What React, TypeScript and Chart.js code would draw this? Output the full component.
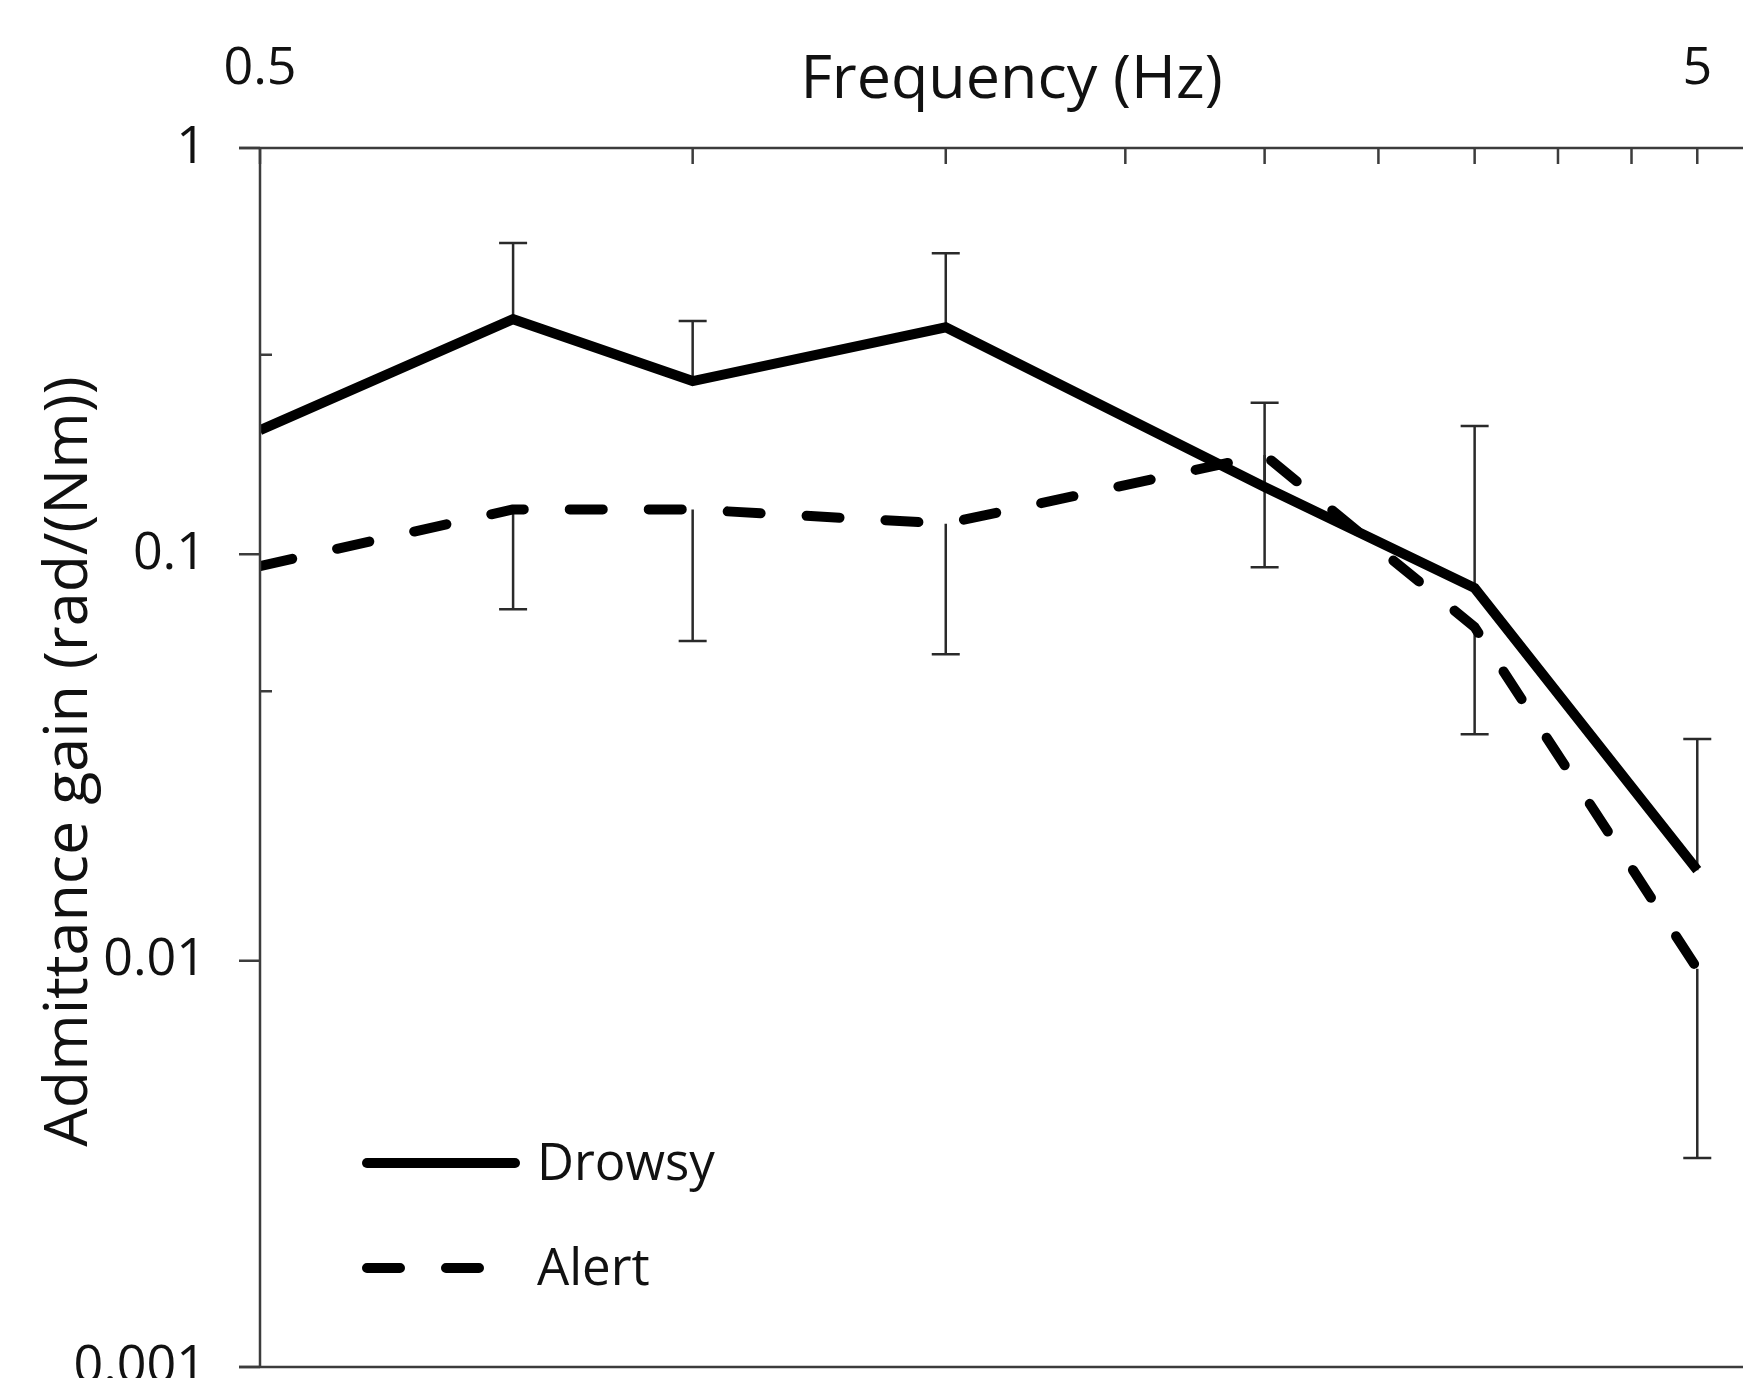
import React, { useEffect, useRef } from 'react';
import { Chart, registerables } from 'chart.js';

Chart.register(...registerables);

// ---- data ----
const frequencies = [0.5, 0.75, 1, 1.5, 2.5, 3.5, 5];
const drowsyGain = [0.202, 0.379, 0.267, 0.362, 0.1465, 0.0826, 0.0167];
const alertGain = [0.0936, 0.129, 0.129, 0.119, 0.1755, 0.0662, 0.00955];
const errorFrequencies = [0.75, 1, 1.5, 2.5, 3.5, 5];
const drowsyUpper = [0.584, 0.375, 0.551, 0.236, 0.207, 0.0351];
const alertLower = [0.0733, 0.0612, 0.0568, 0.093, 0.0361, 0.00327];
const xTickValues = [0.5, 1, 1.5, 2, 2.5, 3, 3.5, 4, 4.5, 5];
const xTickLabels = [0.5, 5];
const yTickValues = [0.001, 0.01, 0.1, 1];
const yMinorTicks = [0.31, 0.046];
const seriesLabels = ['Drowsy', 'Alert'];
const xTitle = 'Frequency (Hz)';
const yTitle = 'Admittance gain (rad/(Nm))';

const X_MIN = 0.5;
const X_MAX = 5.38;
const Y_MIN = 0.001;
const Y_MAX = 1;

const FONT = "'Open Sans', 'DejaVu Sans', sans-serif";
const AXIS_COLOR = '#3c3c3c';
const DASH = [33, 46];

const decorPlugin = {
  id: 'decor',
  beforeDatasetsDraw(chart: any) {
    const { ctx, scales } = chart;
    const x = scales.x;
    const y = scales.y;
    ctx.save();
    ctx.strokeStyle = '#2a2a2a';
    ctx.lineWidth = 2.5;
    errorFrequencies.forEach((f, i) => {
      const px = x.getPixelForValue(f);
      const di = frequencies.indexOf(f);
      const pairs = [
        [drowsyGain[di], drowsyUpper[i]],
        [alertGain[di], alertLower[i]],
      ];
      pairs.forEach(([from, to]) => {
        const y1 = y.getPixelForValue(from);
        const y2 = y.getPixelForValue(to);
        ctx.beginPath();
        ctx.moveTo(px, y1);
        ctx.lineTo(px, y2);
        ctx.moveTo(px - 14, y2);
        ctx.lineTo(px + 14, y2);
        ctx.stroke();
      });
    });
    ctx.restore();
  },
  afterDraw(chart: any) {
    const { ctx, scales, chartArea, width } = chart;
    const x = scales.x;
    const y = scales.y;
    const left = x.getPixelForValue(X_MIN);
    const yTop = y.getPixelForValue(Y_MAX);
    const yBottom = y.getPixelForValue(Y_MIN);
    ctx.save();
    // frame lines
    ctx.strokeStyle = AXIS_COLOR;
    ctx.lineWidth = 2.5;
    ctx.lineCap = 'butt';
    ctx.beginPath();
    ctx.moveTo(left - 21, yTop);
    ctx.lineTo(width, yTop);
    ctx.moveTo(left - 21, yBottom);
    ctx.lineTo(width, yBottom);
    ctx.moveTo(left, yTop);
    ctx.lineTo(left, yBottom);
    ctx.stroke();
    // x ticks (pointing inside, down from the top axis)
    ctx.beginPath();
    xTickValues.forEach((v) => {
      const px = x.getPixelForValue(v);
      ctx.moveTo(px, yTop);
      ctx.lineTo(px, yTop + 16);
    });
    // y major ticks (outside)
    yTickValues.forEach((v) => {
      const py = y.getPixelForValue(v);
      ctx.moveTo(left - 21, py);
      ctx.lineTo(left, py);
    });
    // y minor ticks (inside)
    yMinorTicks.forEach((v) => {
      const py = y.getPixelForValue(v);
      ctx.moveTo(left, py);
      ctx.lineTo(left + 12, py);
    });
    ctx.stroke();

    // titles
    ctx.fillStyle = '#111';
    ctx.font = `61px ${FONT}`;
    ctx.textAlign = 'center';
    ctx.textBaseline = 'alphabetic';
    ctx.fillText(xTitle, (chartArea.left + chartArea.right) / 2 + 10, chartArea.top - 50);
    ctx.save();
    ctx.translate(87, (chartArea.top + chartArea.bottom) / 2 + 4);
    ctx.rotate(-Math.PI / 2);
    ctx.fillText(yTitle, 0, 0);
    ctx.restore();

    // legend
    const datasets = chart.data.datasets;
    const lx0 = chartArea.left + 107;
    const lx1 = chartArea.left + 255;
    const rows = [chartArea.top + 1015, chartArea.top + 1120];
    datasets.forEach((ds: any, i: number) => {
      const ly = rows[i];
      ctx.strokeStyle = ds.borderColor;
      ctx.lineWidth = ds.borderWidth;
      ctx.lineCap = 'round';
      ctx.setLineDash(ds.borderDash || []);
      ctx.beginPath();
      ctx.moveTo(lx0, ly);
      ctx.lineTo(ds.borderDash ? lx0 + 118 : lx1, ly);
      ctx.stroke();
      ctx.setLineDash([]);
      ctx.fillStyle = '#111';
      ctx.font = `51px ${FONT}`;
      ctx.textAlign = 'left';
      ctx.textBaseline = 'alphabetic';
      ctx.fillText(ds.label, chartArea.left + 277, ly + 17);
    });
    ctx.restore();
  },
};

export default function App() {
  const canvasRef = useRef<HTMLCanvasElement | null>(null);

  useEffect(() => {
    if (!canvasRef.current) return;
    const chart = new Chart(canvasRef.current, {
      type: 'line',
      data: {
        datasets: [
          {
            label: seriesLabels[0],
            data: frequencies.map((f, i) => ({ x: f, y: drowsyGain[i] })),
            borderColor: '#000',
            borderWidth: 10,
            borderJoinStyle: 'miter',
            borderCapStyle: 'butt',
            pointRadius: 0,
            tension: 0,
            fill: false,
            clip: { left: 0, top: 10, right: 10, bottom: 10 },
          },
          {
            label: seriesLabels[1],
            data: frequencies.map((f, i) => ({ x: f, y: alertGain[i] })),
            borderColor: '#000',
            borderWidth: 10,
            borderDash: DASH,
            borderCapStyle: 'round',
            borderJoinStyle: 'round',
            pointRadius: 0,
            tension: 0,
            fill: false,
            clip: { left: 0, top: 10, right: 10, bottom: 10 },
          },
        ] as any,
      },
      options: {
        animation: false,
        responsive: false,
        devicePixelRatio: 1,
        layout: { padding: { top: 0, left: 0, right: 0, bottom: 11 } },
        plugins: {
          legend: { display: false },
          tooltip: { enabled: false },
        },
        scales: {
          x: {
            type: 'logarithmic',
            position: 'top',
            min: X_MIN,
            max: X_MAX,
            bounds: 'data',
            grid: { display: false, drawTicks: false },
            border: { display: false },
            afterBuildTicks: (scale: any) => {
              scale.ticks = xTickValues.map((v) => ({ value: v }));
            },
            afterFit: (scale: any) => {
              scale.height = 148;
              scale.paddingLeft = 0;
              scale.paddingRight = 0;
            },
            ticks: {
              autoSkip: false,
              maxRotation: 0,
              minRotation: 0,
              padding: 48,
              color: '#111',
              font: { family: FONT, size: 52 },
              callback: (v: any) => (xTickLabels.includes(Number(v)) ? String(v) : ''),
            },
          },
          y: {
            type: 'logarithmic',
            position: 'left',
            min: Y_MIN,
            max: Y_MAX,
            bounds: 'data',
            grid: { display: false, drawTicks: false },
            border: { display: false },
            afterBuildTicks: (scale: any) => {
              scale.ticks = yTickValues.map((v) => ({ value: v }));
            },
            afterFit: (scale: any) => {
              scale.width = 260;
              scale.paddingTop = 0;
              scale.paddingBottom = 0;
            },
            ticks: {
              autoSkip: false,
              padding: 54,
              color: '#111',
              font: { family: FONT, size: 52 },
              callback: (v: any) => String(v),
            },
          },
        },
      } as any,
      plugins: [decorPlugin],
    });
    return () => chart.destroy();
  }, []);

  return (
    <div style={{ position: 'absolute', left: 0, top: 0, width: 1743, height: 1378, background: '#fff' }}>
      <canvas ref={canvasRef} width={1743} height={1378} />
    </div>
  );
}
